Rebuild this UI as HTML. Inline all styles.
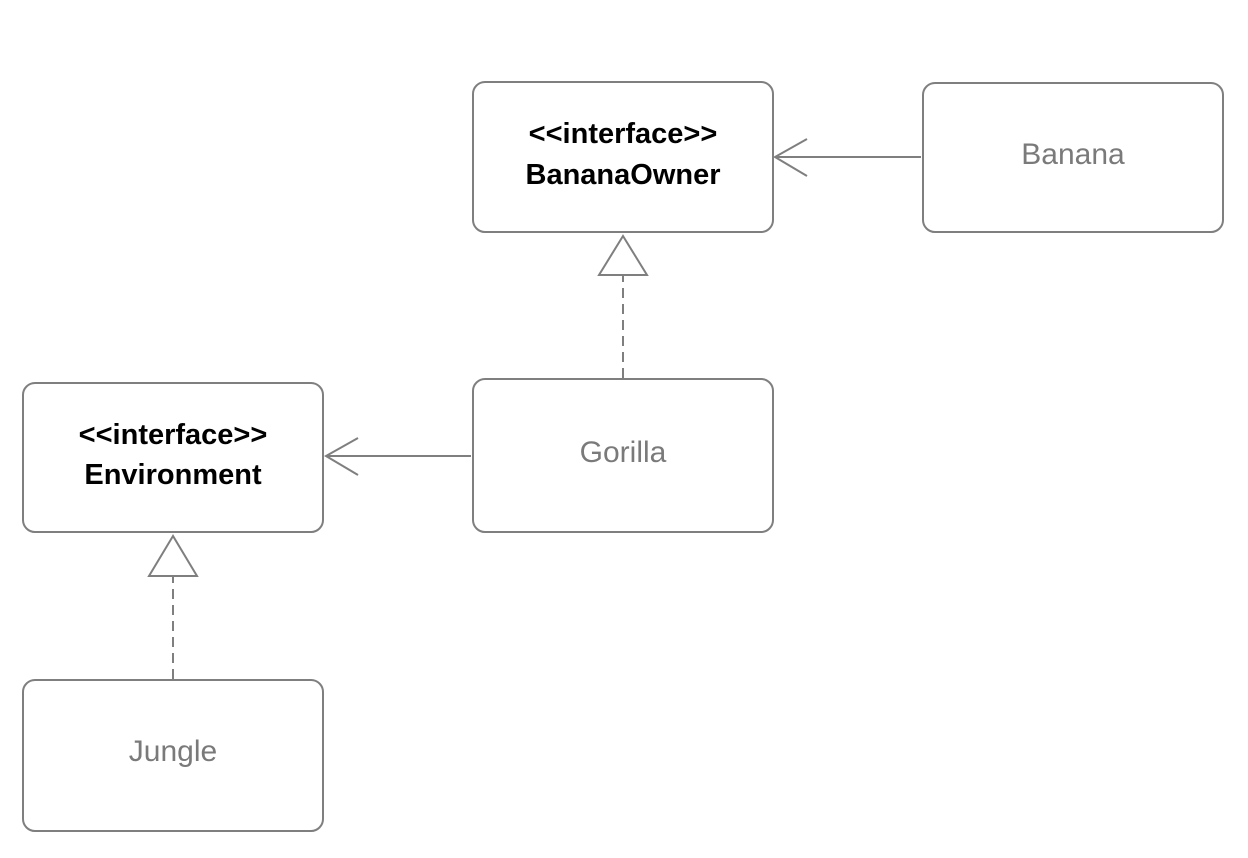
<!DOCTYPE html>
<html><head><style>
body{margin:0;background:#fff;width:1248px;height:853px;overflow:hidden}
</style></head><body>
<svg width="1248" height="853" xmlns="http://www.w3.org/2000/svg" style="font-family:'Liberation Sans',sans-serif">
<g fill="#fff" stroke="#7f7f7f" stroke-width="2">
<rect x="473" y="82" width="300" height="150" rx="12"/>
<rect x="923" y="83" width="300" height="149" rx="12"/>
<rect x="23" y="383" width="300" height="149" rx="12"/>
<rect x="473" y="379" width="300" height="153" rx="12"/>
<rect x="23" y="680" width="300" height="151" rx="12"/>
</g>
<g fill="none" stroke="#7f7f7f" stroke-width="2">
<line x1="921" y1="157" x2="776" y2="157"/>
<polyline points="807,139 775,157 807,176"/>
<line x1="471" y1="456" x2="326" y2="456"/>
<polyline points="358,438 326,456 358,475"/>
<line x1="623" y1="378" x2="623" y2="276" stroke-dasharray="10,6"/>
<polygon points="623,236 599,275 647,275"/>
<line x1="173" y1="679" x2="173" y2="577" stroke-dasharray="10,6"/>
<polygon points="173,536 149,576 197,576"/>
</g>
<g font-weight="bold" font-size="29" text-anchor="middle" fill="#000">
<text x="623" y="143">&lt;&lt;interface&gt;&gt;</text>
<text x="623" y="184">BananaOwner</text>
<text x="173" y="444">&lt;&lt;interface&gt;&gt;</text>
<text x="173" y="484">Environment</text>
</g>
<g font-size="30" text-anchor="middle" fill="#7a7a7a">
<text x="1073" y="164">Banana</text>
<text x="623" y="462">Gorilla</text>
<text x="173" y="761">Jungle</text>
</g>
</svg>
</body></html>
